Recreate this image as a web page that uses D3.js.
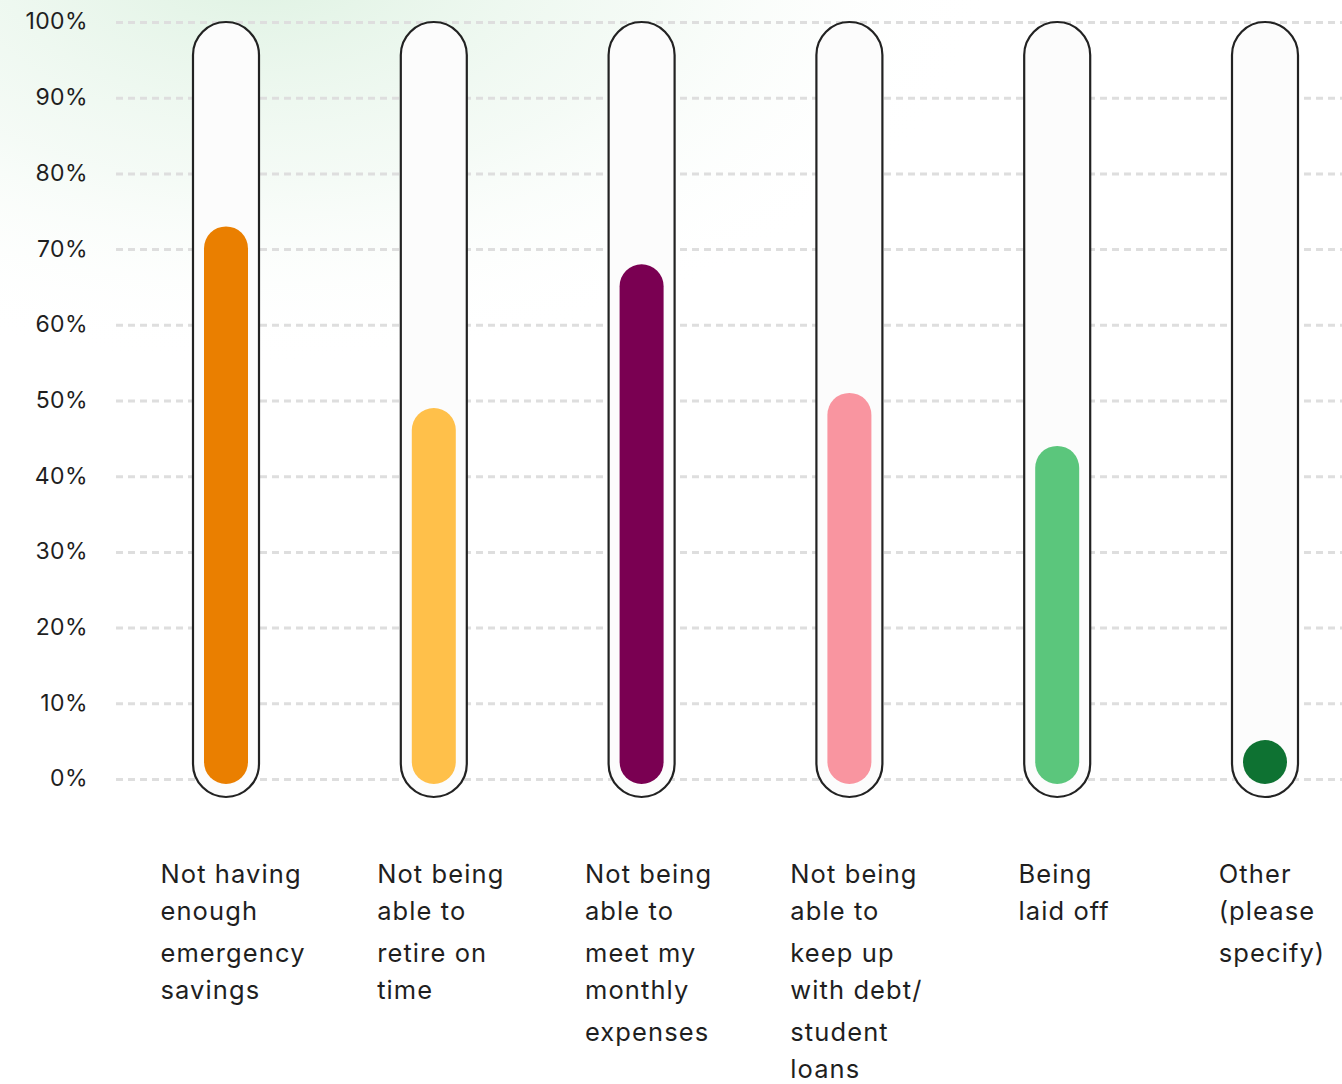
<!DOCTYPE html>
<html>
<head>
<meta charset="utf-8">
<script src="https://cdn.jsdelivr.net/npm/d3@7"></script>
<style>
  html, body { margin: 0; padding: 0; background: #ffffff; }
  svg { display: block; font-family: "Inter", "Lato", sans-serif; }
</style>
</head>
<body>
<svg id="chart" width="1342" height="1084"></svg>
<script>
// Share of respondents naming each financial worry
const categories = [
  "Not having enough emergency savings",
  "Not being able to retire on time",
  "Not being able to meet my monthly expenses",
  "Not being able to keep up with debt/ student loans",
  "Being laid off",
  "Other (please specify)"
];
// Label text broken into lines as displayed under each tube
const labelLines = [
  ["Not having", "enough", "emergency", "savings"],
  ["Not being", "able to", "retire on", "time"],
  ["Not being", "able to", "meet my", "monthly", "expenses"],
  ["Not being", "able to", "keep up", "with debt/", "student", "loans"],
  ["Being", "laid off"],
  ["Other", "(please", "specify)"]
];
const values = [73, 49, 68, 51, 44, 5];
const colors = ["#ea7f00", "#ffc04a", "#7a0052", "#f995a0", "#5bc67c", "#0e7232"];
const yTicks = [0, 10, 20, 30, 40, 50, 60, 70, 80, 90, 100];

const svg = d3.select("#chart");
const W = 1342, H = 1084;

// soft green glow in the upper-left corner
const defs = svg.append("defs");
const glow = defs.append("radialGradient")
  .attr("id", "glow")
  .attr("gradientUnits", "userSpaceOnUse")
  .attr("cx", 260).attr("cy", -40).attr("r", 740)
  .attr("gradientTransform", "translate(260,-40) scale(1,0.55) translate(-260,40)");
glow.append("stop").attr("offset", "0%").attr("stop-color", "#dcf1e0").attr("stop-opacity", 0.95);
glow.append("stop").attr("offset", "55%").attr("stop-color", "#eef8f0").attr("stop-opacity", 0.6);
glow.append("stop").attr("offset", "100%").attr("stop-color", "#ffffff").attr("stop-opacity", 0);
svg.append("rect").attr("width", W).attr("height", H).attr("fill", "#ffffff");
svg.append("rect").attr("width", W).attr("height", H).attr("fill", "url(#glow)");

const y = d3.scaleLinear().domain([0, 100]).range([779, 22]);
const x = d3.scalePoint().domain(categories).range([226, 1265]);

// dashed gridlines
const grid = svg.append("g").attr("transform", "translate(116,0)")
  .call(d3.axisLeft(y).tickValues(yTicks).tickSize(-(W - 116)).tickFormat(""));
grid.select(".domain").remove();
grid.selectAll(".tick line")
  .attr("stroke", "#dedede")
  .attr("stroke-width", 3)
  .attr("stroke-dasharray", "7,5");

// y-axis labels
const yAxis = svg.append("g").attr("transform", "translate(88,0)")
  .call(d3.axisLeft(y).tickValues(yTicks).tickSize(0).tickPadding(0).tickFormat(d => d + "%"));
yAxis.select(".domain").remove();
yAxis.selectAll(".tick text")
  .attr("font-family", "Inter, Lato, sans-serif")
  .attr("font-size", 23)
  .attr("letter-spacing", 0.4)
  .attr("fill", "#1f1f1f")
  .attr("dy", "0.3em");

// outer tubes
const tubeW = 66, tubeTop = y(100), tubeBottom = 797;
svg.append("g").selectAll("rect")
  .data(categories)
  .join("rect")
  .attr("x", d => x(d) - tubeW / 2)
  .attr("y", tubeTop)
  .attr("width", tubeW)
  .attr("height", tubeBottom - tubeTop)
  .attr("rx", tubeW / 2)
  .attr("fill", "#fcfcfc")
  .attr("stroke", "#222222")
  .attr("stroke-width", 2.2);

// filled bars
const barW = 44, barBase = y(0) + 5;
svg.append("g").selectAll("rect")
  .data(values)
  .join("rect")
  .attr("x", (d, i) => x(categories[i]) - barW / 2)
  .attr("y", d => Math.min(y(d), barBase - barW))
  .attr("width", barW)
  .attr("height", d => Math.max(barBase - y(d), barW))
  .attr("rx", barW / 2)
  .attr("fill", (d, i) => colors[i]);

// category labels, left-aligned block centred under each tube
const lineY = i => 876 + Math.floor(i / 2) * 79 + (i % 2) * 37;
const labels = svg.append("g").selectAll("text")
  .data(labelLines)
  .join("text")
  .attr("font-family", "Inter, Lato, sans-serif")
  .attr("font-size", 25.5)
  .attr("letter-spacing", 1.1)
  .attr("fill", "#1f1f1f")
  .attr("dominant-baseline", "middle");
labels.each(function (lines) {
  const t = d3.select(this);
  lines.forEach((ln, i) => t.append("tspan").attr("y", lineY(i)).text(ln));
});
labels.each(function (lines, k) {
  const t = d3.select(this);
  let maxW = 0;
  t.selectAll("tspan").each(function () { maxW = Math.max(maxW, this.getComputedTextLength()); });
  t.selectAll("tspan").attr("x", x(categories[k]) + 7 - maxW / 2);
});
</script>
</body>
</html>
